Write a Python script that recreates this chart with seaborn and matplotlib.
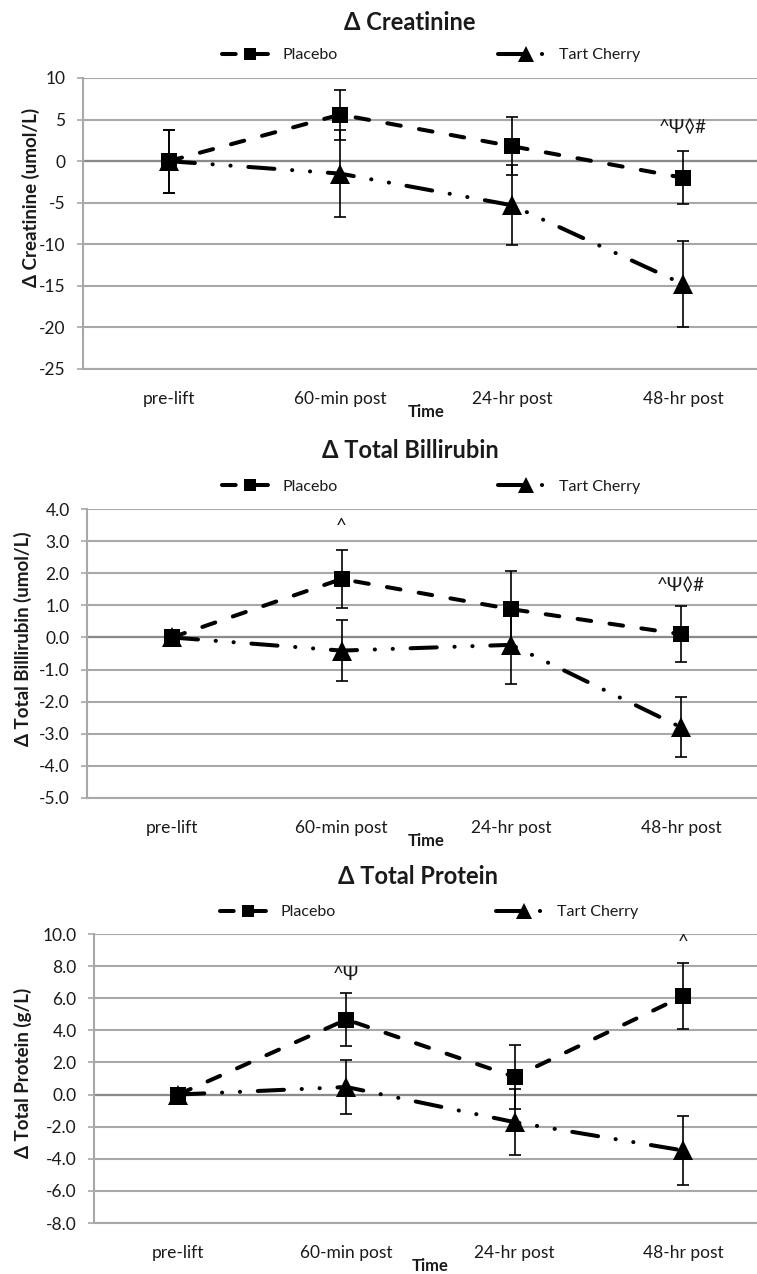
import numpy as np
import pandas as pd
import matplotlib
matplotlib.use("Agg")
import matplotlib.pyplot as plt
import seaborn as sns

# ---------------- data ----------------
categories = ["pre-lift", "60-min post", "24-hr post", "48-hr post"]
groups = ["Placebo", "Tart Cherry"]

creat_placebo = [0.0, 5.6, 1.8, -2.0]
creat_placebo_err = [3.8, 3.0, 3.5, 3.2]
creat_tart = [0.0, -1.5, -5.3, -14.8]
creat_tart_err = [3.8, 5.2, 4.8, 5.2]

bili_placebo = [0.0, 1.82, 0.88, 0.10]
bili_placebo_err = [0.15, 0.90, 1.20, 0.88]
bili_tart = [0.0, -0.41, -0.23, -2.80]
bili_tart_err = [0.15, 0.94, 1.22, 0.93]

prot_placebo = [0.0, 4.67, 1.10, 6.12]
prot_placebo_err = [0.3, 1.64, 2.00, 2.05]
prot_tart = [0.0, 0.47, -1.72, -3.48]
prot_tart_err = [0.3, 1.71, 2.06, 2.15]

titles = ["\u0394 Creatinine", "\u0394 Total Billirubin", "\u0394 Total Protein"]
ylabels = ["\u0394 Creatinine (umol/L)", "\u0394 Total Billirubin (umol/L)",
           "\u0394 Total Protein (g/L)"]
yticks_list = [[-25, -20, -15, -10, -5, 0, 5, 10],
               [-5, -4, -3, -2, -1, 0, 1, 2, 3, 4],
               [-8, -6, -4, -2, 0, 2, 4, 6, 8, 10]]
ytick_fmt = ["{:.0f}", "{:.1f}", "{:.1f}"]

# annotations: (category index, y value, text)
annot_creat = [(3, 4.0, "^\u03a8\u25ca#")]
annot_bili = [(1, 3.45, "^"), (3, 1.62, "^\u03a8\u25ca#")]
annot_prot = [(1, 7.45, "^\u03a8"), (3, 9.45, "^")]

panels = [
    (creat_placebo, creat_placebo_err, creat_tart, creat_tart_err, annot_creat),
    (bili_placebo, bili_placebo_err, bili_tart, bili_tart_err, annot_bili),
    (prot_placebo, prot_placebo_err, prot_tart, prot_tart_err, annot_prot),
]

# ---------------- style ----------------
sns.set_theme(style="white")
plt.rcParams["font.family"] = ["Lato", "DejaVu Sans"]
plt.rcParams["axes.unicode_minus"] = False
plt.rcParams["lines.dash_capstyle"] = "round"

W, H = 757, 1274
fig = plt.figure(figsize=(W / 100, H / 100), dpi=100)

# axes rectangles in pixels: left, top, right, bottom
rects_px = [(83, 78, 769, 369), (87, 509, 766, 798), (94, 934, 767, 1223)]
title_px = [(410, 22), (410, 450), (418, 877)]
legend_px = [(431, 55), (431, 487), (429, 912)]
ylabel_pos = [(40, 0.59), (32, 0.55), (32, 0.52)]

grid_color = "#a8a8a8"
axis_color = "#8a8a8a"
text_color = "#1a1a1a"
LW = 2.9
dash_styles = {"Placebo": (3.4, 4.6), "Tart Cherry": (6.5, 4.4, 0.05, 4.4, 0.05, 4.4)}
marker_styles = {"Placebo": "s", "Tart Cherry": "^"}
msize = {"s": 11, "^": 15}
msize_leg = {"s": 9, "^": 11.5}

for i, (pl, ple, tc, tce, annots) in enumerate(panels):
    l, t, r, b = rects_px[i]
    ax = fig.add_axes([l / W, 1 - b / H, (r - l) / W, (b - t) / H])

    pos = list(range(len(categories)))
    df = pd.DataFrame({
        "pos": pos * 2,
        "value": pl + tc,
        "err": ple + tce,
        "Group": [groups[0]] * 4 + [groups[1]] * 4,
    })

    yt = yticks_list[i]
    ax.axhline(0, color=axis_color, linewidth=1.6, zorder=1)

    # error bars first (beneath markers)
    for g in groups:
        sub = df[df["Group"] == g]
        ax.errorbar(sub["pos"], sub["value"], yerr=sub["err"], fmt="none",
                    ecolor="black", elinewidth=1.2, capsize=4, capthick=1.2,
                    zorder=3)

    sns.lineplot(data=df, x="pos", y="value", hue="Group", style="Group",
                 palette={"Placebo": "black", "Tart Cherry": "black"},
                 dashes=dash_styles, markers=marker_styles,
                 linewidth=LW, markersize=11, markeredgewidth=0,
                 dash_capstyle="round",
                 ax=ax, zorder=4, legend=True)
    for ln in ax.lines:
        mk = ln.get_marker()
        if mk in msize:
            ln.set_markersize(msize[mk])

    leg = ax.get_legend()
    handles = list(leg.legend_handles)
    labels = [tx.get_text() for tx in leg.get_texts()]
    leg.remove()
    for h in handles:
        h.set_linewidth(LW)
        h.set_markeredgewidth(0)
        h.set_dash_capstyle("round")
        mk = h.get_marker()
        if mk in msize_leg:
            h.set_markersize(msize_leg[mk])

    lx, ly = legend_px[i]
    ax.legend(handles, labels, loc="center", ncol=2, frameon=False,
              bbox_to_anchor=(lx / W, 1 - ly / H), bbox_transform=fig.transFigure,
              handlelength=3.5, handletextpad=0.3, columnspacing=10.0,
              prop={"size": 11.5}, labelcolor=text_color)

    ax.set_ylim(yt[0], yt[-1])
    ax.set_yticks(yt)
    ax.set_yticklabels([ytick_fmt[i].format(v) for v in yt])
    ax.set_xlim(-0.5, len(categories) - 0.5)
    ax.set_xticks(pos)
    ax.set_xticklabels(categories)

    ax.yaxis.grid(True, color=grid_color, linewidth=1.5)
    ax.xaxis.grid(False)
    ax.set_axisbelow(True)
    for s in ["top", "right"]:
        ax.spines[s].set_visible(False)
    ax.spines["left"].set_color(grid_color)
    ax.spines["left"].set_linewidth(1.5)
    ax.spines["bottom"].set_color(grid_color)
    ax.spines["bottom"].set_linewidth(1.5)

    ax.tick_params(axis="y", which="major", left=True, length=4.5, width=1.2,
                   color=grid_color, labelsize=12.5, labelcolor=text_color, pad=8)
    ax.tick_params(axis="x", which="major", bottom=False, labelsize=12.5,
                   labelcolor=text_color, pad=9.5)

    ax.set_xlabel("Time", fontsize=12, fontweight="bold", color=text_color,
                  labelpad=-1.5)
    ax.set_ylabel(ylabels[i], fontsize=13.5, fontweight="bold", color=text_color)
    yx, yy = ylabel_pos[i]
    ax.yaxis.set_label_coords((yx - l) / (r - l), yy)

    tx, ty = title_px[i]
    fig.text(tx / W, 1 - ty / H, titles[i], ha="center", va="center",
             fontsize=17, fontweight="bold", color=text_color)

    for (ci, yv, s) in annots:
        ax.text(ci, yv, s, ha="center", va="center", fontsize=13.5,
                color=text_color)

fig.savefig("out.png", dpi=100)
